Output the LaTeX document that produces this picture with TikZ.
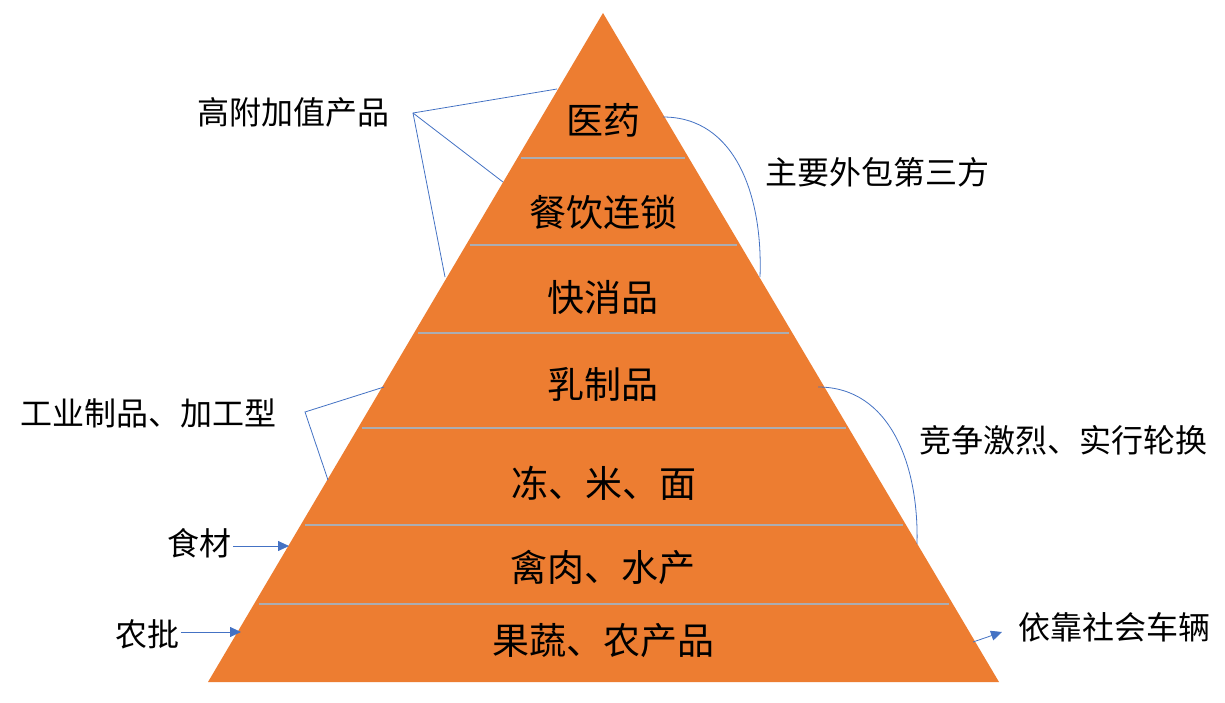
\documentclass[tikz,border=0pt]{standalone}
\usepackage{fontspec}
\setmainfont{Noto Sans CJK SC}
\usetikzlibrary{arrows.meta}
\definecolor{pyr}{HTML}{ED7D31}
\definecolor{linkblue}{HTML}{4472C4}
\definecolor{sepgray}{HTML}{ABADB2}
\begin{document}
\begin{tikzpicture}[x=1pt,y=-1pt,
  lbl/.style={font=\fontsize{32}{35}\selectfont, inner sep=0pt},
  tier/.style={font=\fontsize{37}{41}\selectfont, inner sep=0pt},
  conn/.style={draw=linkblue, line width=0.8pt},
  arr/.style={conn, -{Triangle[length=11pt,width=10pt]}},
  sepline/.style={draw=sepgray, line width=2.5pt}]
\useasboundingbox[fill=white] (0,0) rectangle (1225,703);
% pyramid
\coordinate (A) at (603,13);
\coordinate (L) at (208,682);
\coordinate (R) at (999,682);
\fill[pyr] (A) -- (L) -- (R) -- cycle;
% separators
\draw[sepline] (521,158) -- (685,158);
\draw[sepline] (470,245) -- (737,245);
\draw[sepline] (418,333) -- (789,333);
\draw[sepline] (362,428) -- (846,428);
\draw[sepline] (305,525) -- (903,525);
\draw[sepline] (259,604) -- (949,604);
% tier labels
\node[tier] (t1) at (603,120) {医药};
\node[tier] (t2) at (603,212) {餐饮连锁};
\node[tier] (t3) at (603,297) {快消品};
\node[tier] (t4) at (603,384) {乳制品};
\node[tier] (t5) at (604,483) {冻、米、面};
\node[tier] (t6) at (603,567) {禽肉、水产};
\node[tier] (t7) at (603,641) {果蔬、农产品};
% outside labels
\node[lbl] (hv) at (293,112) {高附加值产品};
\node[lbl] (out) at (877,172) {主要外包第三方};
\node[lbl] (ind) at (148,413) {工业制品、加工型};
\node[lbl] (food) at (199,543) {食材};
\node[lbl] (farm) at (147,634) {农批};
\node[lbl] (comp) at (1063,440) {竞争激烈、实行轮换};
\node[lbl] (veh) at (1114,627) {依靠社会车辆};
% connector points
\coordinate (hvs) at (413,113);
\coordinate (hv1) at (557,89);
\coordinate (hv2) at (503,182);
\coordinate (hv3) at (445,277);
\coordinate (os) at (663,117);
\coordinate (oe) at (760,277);
\coordinate (ids) at (305,412);
\coordinate (id1) at (384,387);
\coordinate (id2) at (328,480);
\coordinate (cs) at (818,387);
\coordinate (ce) at (917,544);
\coordinate (foodtip) at (289,546);
\coordinate (farmtip) at (241,632);
\coordinate (vehs) at (973,642);
\coordinate (vehtip) at (1002,632);
% connectors
\draw[conn] (hv1) -- (hvs) -- (hv3);
\draw[conn] (hvs) -- (hv2);
\draw[conn] (os) .. controls (735,117) and (763,195) .. (oe);
\draw[conn] (id1) -- (ids) -- (id2);
\draw[conn] (cs) .. controls (890,387) and (919,465) .. (ce);
\draw[arr] (food.east) ++(2,3) -- (foodtip);
\draw[arr] (farm.east) ++(2,-2) -- (farmtip);
\draw[arr] (vehs) -- (vehtip);
\end{tikzpicture}
\end{document}
